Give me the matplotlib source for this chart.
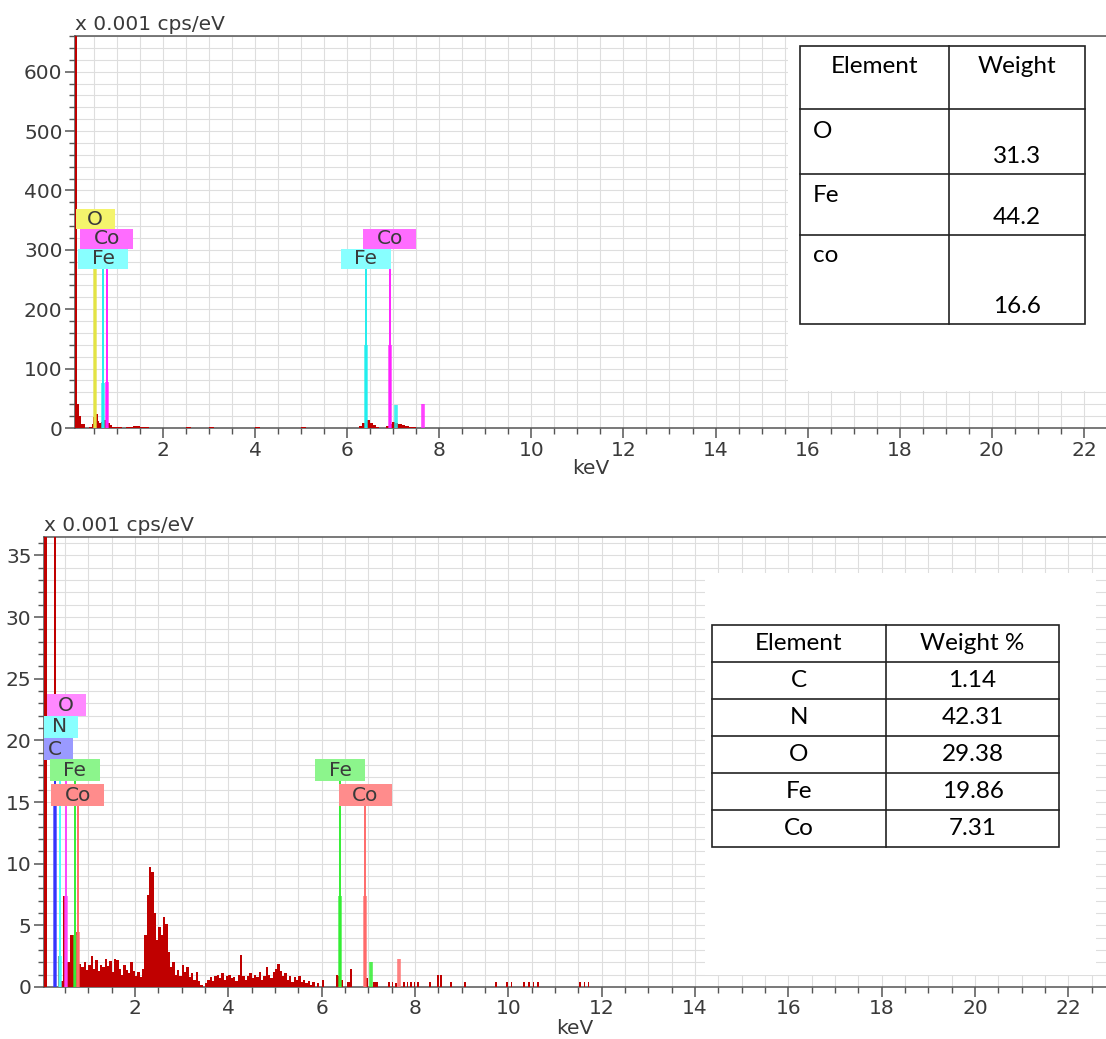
import numpy as np
import matplotlib.pyplot as plt
from matplotlib.patches import Rectangle
from matplotlib.ticker import MultipleLocator

# --- spectre du haut (Fe-Co-O) ---
kev_top = [0.00, 0.09, 0.14, 0.17, 0.22, 0.30, 0.40, 0.45, 0.49, 0.52, 0.55, 0.58, 0.62,
           0.66, 0.72, 0.76, 0.80, 0.84, 0.90, 1.10, 1.20, 1.35, 1.50, 1.70, 2.50, 2.60,
           3.00, 3.10, 4.00, 4.10, 5.00, 5.10, 6.25, 6.32, 6.38, 6.44, 6.50, 6.56, 6.62,
           6.70, 6.85, 6.92, 6.98, 7.04, 7.10, 7.18, 7.26, 7.35, 7.50]
cps_top = [0, 700, 40, 20, 6, 0, 2, 6, 18, 28, 24, 12, 8,
           10, 14, 12, 9, 5, 1, 0, 2, 3, 1, 0, 2, 0,
           2, 0, 2, 0, 1.5, 0, 3, 9, 16, 14, 9, 5, 2,
           0, 3, 7, 10, 9, 7, 5, 3, 1, 0]

# raies (element, energie, hauteur epaisse, couleur ligne, couleur etiquette, bas etiquette)
top_el = ["O", "Fe", "Co", "Fe", "Co", "Fe", "Co"]
top_kev = [0.525, 0.705, 0.776, 6.40, 6.93, 7.06, 7.65]
top_thick = [270, 76, 78, 140, 140, 38, 40]
top_line = ["#e4e444", "#22eeee", "#ff22ff", "#22eeee", "#ff22ff", "#22eeee", "#ff22ff"]
top_face = ["#f4f46c", "#88ffff", "#ff6cff", "#88ffff", "#ff6cff", None, None]
top_tag_y = [335, 268, 302, 268, 302, None, None]

# --- spectre du bas (C-N-O-Fe-Co) ---
kev_low = [0.00, 0.05, 0.12, 0.26, 0.31, 0.36, 0.42, 0.46, 0.54, 0.60, 0.70, 0.74, 0.78]
cps_low = [0, 40, 0, 40, 0, 2.5, 0.5, 7.4, 2.0, 4.2, 1.0, 4.5, 1.9]

chan_start, chan_width = 0.80, 0.05
cps_cont = [1.9, 1.6, 2.0, 1.4, 1.8, 2.5, 1.5, 2.2, 1.3, 1.8,
            1.6, 2.3, 1.7, 2.1, 1.2, 2.3, 2.2, 1.5, 1.0, 1.8,
            1.4, 1.1, 2.0, 1.3, 0.9, 1.2, 0.8, 1.5, 4.2, 7.5,
            9.7, 9.3, 6.0, 3.8, 4.9, 4.2, 5.7, 5.1, 2.8, 1.6,
            2.0, 1.0, 1.4, 0.9, 1.8, 1.2, 1.6, 0.8, 1.1, 0.6,
            1.2, 0.5, 0.2, 0.0, 0.3, 0.6, 0.8, 0.5, 0.9, 1.0,
            0.7, 1.1, 0.6, 0.9, 1.0, 0.7, 0.8, 0.5, 1.0, 2.6,
            0.9, 0.6, 0.9, 1.1, 0.7, 1.0, 0.8, 1.2, 0.6, 0.9,
            1.6, 1.0, 0.7, 1.2, 1.5, 1.9, 1.3, 0.9, 1.1, 0.6,
            0.9, 0.4, 0.8, 0.6, 0.9, 0.4, 0.6, 0.3, 0.5, 0.2,
            0.4, 0.0, 0.3, 0.0, 0.6, 0.0, 0.0, 0.0, 0.0, 0.0,
            1.0, 0.9, 0.6, 0.0, 0.0, 0.4, 1.5, 0.0, 0.0, 0.0,
            0.0, 0.0, 1.0, 0.7, 0.0, 0.0, 0.4, 0.4, 0.0]

tail_kev = [7.42, 7.50, 7.58, 7.75, 7.82, 7.90, 7.97, 8.05, 8.30, 8.48, 8.54, 8.75,
            9.05, 9.72, 9.95, 10.05, 10.32, 10.42, 10.52, 10.62, 11.52, 11.62, 11.70]
tail_cps = [0.4, 0.4, 0.3, 0.4, 0.4, 0.4, 0.4, 0.4, 0.4, 1.0, 1.0, 0.4,
            0.4, 0.4, 0.4, 0.4, 0.4, 0.4, 0.4, 0.4, 0.4, 0.4, 0.4]

low_el = ["C", "N", "O", "Fe", "Co", "Fe", "Co", "Fe", "Co"]
low_kev = [0.277, 0.392, 0.525, 0.705, 0.776, 6.40, 6.93, 7.06, 7.65]
low_thick = [15, 2.5, 7.4, 4.2, 4.5, 7.4, 7.4, 2.0, 2.3]
low_line = ["#3535ff", "#44ffff", "#ff44ff", "#33ee33", "#ff6a6a",
            "#33ee33", "#ff6a6a", "#33ee33", "#ff6a6a"]
low_face = ["#9a9aff", "#88ffff", "#ff88ff", "#8cf58c", "#ff8c8c",
            "#8cf58c", "#ff8c8c", None, None]
low_tag_y = [18.4, 20.2, 21.96, 16.7, 14.67, 16.7, 14.67, None, None]

# --- tableaux ---
tab1_head = ["Element", "Weight"]
tab1_el = ["O", "Fe", "co"]
tab1_val = ["31.3", "44.2", "16.6"]
tab2_head = ["Element", "Weight %"]
tab2_el = ["C", "N", "O", "Fe", "Co"]
tab2_val = ["1.14", "42.31", "29.38", "19.86", "7.31"]

W, H = 1106, 1039
RED = "#c00000"
TXT = "#3a3a3a"
FS = 14.5
TAG_W = {"O": 39, "Fe": 50, "Co": 53, "N": 36, "C": 36}

fig = plt.figure(figsize=(W / 100, H / 100), dpi=100)


def px_axes(x0, y0, x1, y1):
    return fig.add_axes([x0 / W, 1 - y1 / H, (x1 - x0) / W, (y1 - y0) / H])


def setup(ax, xlim, ylim, ymaj, ymin):
    ax.set_xlim(*xlim)
    ax.set_ylim(*ylim)
    ax.set_axisbelow(True)
    ax.xaxis.set_major_locator(MultipleLocator(2))
    ax.xaxis.set_minor_locator(MultipleLocator(0.5))
    ax.yaxis.set_major_locator(MultipleLocator(ymaj))
    ax.yaxis.set_minor_locator(MultipleLocator(ymin))
    ax.grid(which="both", color="#dedede", lw=0.8)
    ax.tick_params(which="both", direction="out", color="#555555", labelcolor=TXT,
                   labelsize=FS)
    ax.tick_params(which="major", length=7, width=1.1, pad=2)
    ax.tick_params(which="minor", length=4, width=1.0)
    ax.xaxis.set_major_formatter(lambda v, p: "" if v == 0 else f"{v:g}")
    ax.spines["right"].set_visible(False)
    for s in ["left", "bottom", "top"]:
        ax.spines[s].set_color("#555555")
        ax.spines[s].set_linewidth(1.1)
    ax.set_xlabel("keV", fontsize=FS, color=TXT, labelpad=0)
    ax.text(0, 1.004, "x 0.001 cps/eV", transform=ax.transAxes, fontsize=FS,
            color=TXT, ha="left", va="bottom")


def tag(ax, kev, ybot, text, face, hpx):
    wpx = TAG_W[text]
    xd, yd = ax.transData.transform((kev, ybot))
    inv = ax.transData.inverted()
    x0, y0 = inv.transform((xd - wpx / 2, yd))
    x1, y1 = inv.transform((xd + wpx / 2, yd + hpx))
    ax.add_patch(Rectangle((x0, y0), x1 - x0, y1 - y0, facecolor=face,
                           edgecolor="none", zorder=6))
    ax.text((x0 + x1) / 2, (y0 + y1) / 2, text, ha="center", va="center",
            fontsize=FS, color=TXT, zorder=7, clip_on=True)


def markers(ax, els, kevs, thick, lines, faces, tag_y, hpx):
    for el, k, th, lc, fc, ty in zip(els, kevs, thick, lines, faces, tag_y):
        if ty is not None:
            ax.vlines(k, 0, ty, color=lc, lw=1.4, zorder=4)
            tag(ax, k, ty, el, fc, hpx)
        ax.vlines(k, 0, th, color=lc, lw=2.6, zorder=4, alpha=0.85)


# --- haut ---
ax1 = px_axes(75, 36, 1106, 428)
setup(ax1, (0.089, 22.48), (0, 660), 100, 20)
ax1.fill_between(kev_top, cps_top, step="post", color=RED, lw=0, zorder=3)
markers(ax1, top_el, top_kev, top_thick, top_line, top_face, top_tag_y, 20)

# --- bas ---
ax2 = px_axes(44, 537, 1106, 987)
setup(ax2, (0.05, 22.81), (0, 36.5), 5, 1)
kev_all = kev_low + [chan_start + chan_width * i for i in range(len(cps_cont))]
cps_all = cps_low + cps_cont
ax2.fill_between(kev_all, cps_all, step="post", color=RED, lw=0, zorder=3)
ax2.bar(tail_kev, tail_cps, width=0.035, align="edge", color=RED, lw=0, zorder=3)
markers(ax2, low_el, low_kev, low_thick, low_line, low_face, low_tag_y, 22)

# --- calque des tableaux (coordonnees pixels) ---
ov = fig.add_axes([0, 0, 1, 1], zorder=10)
ov.set_xlim(0, W)
ov.set_ylim(H, 0)
ov.axis("off")
ov.add_patch(Rectangle((788, 37), 1106 - 788, 391 - 37, facecolor="white", edgecolor="none"))
ov.add_patch(Rectangle((705, 573), 1096 - 705, 975 - 573, facecolor="white", edgecolor="none"))

tfont = dict(family=["Lato", "DejaVu Sans"], fontsize=17.5, color="black")
lk = dict(color="#222222", lw=1.2)

# tableau 1
x0, xm, x1 = 800, 949, 1085
rows1 = [45.7, 109, 174, 235, 324]
ov.add_patch(Rectangle((x0, rows1[0]), x1 - x0, rows1[-1] - rows1[0], fill=False, **lk))
ov.plot([xm, xm], [rows1[0], rows1[-1]], **lk)
for r in rows1[1:-1]:
    ov.plot([x0, x1], [r, r], **lk)
ov.text((x0 + xm) / 2, rows1[0] + 21, tab1_head[0], ha="center", va="center", **tfont)
ov.text((xm + x1) / 2, rows1[0] + 21, tab1_head[1], ha="center", va="center", **tfont)
name_y = [131.7, 196, 255]
val_y = [156.7, 218, 306.7]
for i in range(len(tab1_el)):
    ov.text(x0 + 13, name_y[i], tab1_el[i], ha="left", va="center", **tfont)
    ov.text((xm + x1) / 2, val_y[i], tab1_val[i], ha="center", va="center", **tfont)

# tableau 2
x0, xm, x1 = 711.7, 885.7, 1059.3
y0, rh = 625, 37.05
n = len(tab2_el) + 1
ov.add_patch(Rectangle((x0, y0), x1 - x0, rh * n, fill=False, **lk))
ov.plot([xm, xm], [y0, y0 + rh * n], **lk)
for i in range(1, n):
    ov.plot([x0, x1], [y0 + rh * i, y0 + rh * i], **lk)
col_a = [tab2_head[0]] + tab2_el
col_b = [tab2_head[1]] + tab2_val
for i in range(n):
    yc = y0 + rh * (i + 0.5)
    ov.text((x0 + xm) / 2, yc, col_a[i], ha="center", va="center", **tfont)
    ov.text((xm + x1) / 2, yc, col_b[i], ha="center", va="center", **tfont)

fig.savefig("out.png", dpi=100)
